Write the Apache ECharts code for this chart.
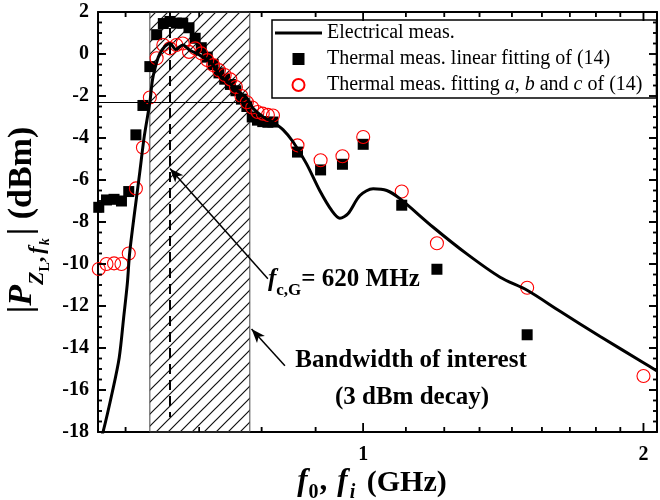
<!DOCTYPE html>
<html>
<head>
<meta charset="utf-8">
<script src="https://cdn.jsdelivr.net/npm/echarts@6/dist/echarts.min.js"></script>
<style>
  html, body { margin: 0; padding: 0; background: #fff; }
  #chart { width: 660px; height: 500px; }
</style>
</head>
<body>
<div id="chart"></div>
<script>
const FONT = '"Liberation Serif", "Times New Roman", serif';

// Electrical measurement: frequency (GHz) and power (dBm)
const elecFreq = [0.520, 0.5255, 0.538, 0.547, 0.553, 0.558, 0.5616, 0.5756, 0.582, 0.590, 0.594,
  0.600, 0.6045, 0.612, 0.620, 0.629, 0.640, 0.651, 0.667, 0.681, 0.690, 0.701, 0.719, 0.731,
  0.750, 0.762, 0.781, 0.800, 0.820, 0.841, 0.869, 0.898, 0.925, 0.944, 0.963, 0.992, 1.025,
  1.060, 1.095, 1.189, 1.292, 1.403, 1.500, 1.627, 1.797, 2.000, 2.068];
const elecPower = [-18.6, -18.0, -16.05, -14.45, -12.55, -10.95, -9.36, -5.6, -3.9, -2.3, -1.2,
  -0.4, 0.0, 0.35, 0.5, 0.22, 0.43, 0.19, -0.05, -0.29, -0.53, -1.0, -1.4, -1.72,
  -2.1, -2.6, -3.0, -3.25, -3.6, -4.19, -5.22, -6.5, -7.45, -7.82, -7.61, -6.74, -6.42,
  -6.5, -6.89, -8.25, -9.52, -10.63, -11.25, -12.25, -13.45, -14.7, -15.1];

// Thermal measurements: frequency (GHz)
const thermFreq = [0.52, 0.53, 0.54, 0.55, 0.56, 0.57, 0.58, 0.59, 0.60, 0.61, 0.62, 0.63, 0.64,
  0.65, 0.66, 0.67, 0.68, 0.69, 0.70, 0.71, 0.72, 0.73, 0.74, 0.75, 0.76, 0.77, 0.78, 0.79, 0.80,
  0.85, 0.90, 0.95, 1.00, 1.10, 1.20, 1.50, 2.00];
// Linear fitting of (14), dBm
const thermLinear = [-7.3, -6.95, -6.92, -7.0, -6.55, -3.85, -2.45, -0.6, 0.92, 1.45, 1.55, 1.47, 1.47,
  1.25, 0.75, 0.3, -0.15, -0.5, -0.9, -1.2, -1.45, -1.75, -2.15, -2.5, -3.0, -3.15, -3.22, -3.25, -3.24,
  -4.67, -5.52, -5.25, -4.3, -7.2, -10.25, -13.37, null];
// Fitting a, b and c of (14), dBm
const thermFit = [-10.24, -10.0, -9.97, -10.0, -9.5, -6.4, -4.45, -2.07, -0.2, 0.43, 0.27, 0.43, 0.5,
  0.1, 0.27, 0.03, -0.29, -0.53, -0.77, -1.0, -1.21, -1.57, -2.0, -2.3, -2.55, -2.76, -2.84, -2.9, -2.93,
  -4.35, -5.06, -4.87, -3.95, -6.55, -9.01, -11.13, -15.33];

// Axis ranges and ticks
const xRange = [0.519, 2.068];
const yRange = [-18, 2];
const xMajorTicks = [1, 2];
const xTickLabels = ['1', '2'];
const xMinorTicks = [0.5556, 0.6667, 0.7778, 0.8889, 1.1111, 1.2222, 1.3333, 1.4444,
  1.5556, 1.6667, 1.7778, 1.8889];
const yMajorTicks = [-18, -16, -14, -12, -10, -8, -6, -4, -2, 0, 2];
const yMinorTicks = [];
yMajorTicks.slice(0, -1).forEach(v => { yMinorTicks.push(v + 0.5, v + 1, v + 1.5); });

// Annotations
const bandOfInterest = [0.590, 0.7555];   // GHz, 3 dBm decay
const decayLevel = -2.3;                  // dBm
const cutoffFreq = 0.62;                  // GHz
const arrowCutoff = [[0.79, -10.7], [0.62, -5.45]];
const arrowBand = [[0.824, -14.85], [0.7587, -13.1]];

const names = ['Electrical meas.', 'Thermal meas. linear fitting of (14)',
  'Thermal meas. fitting a, b and c of (14)'];

// layout
const CHART_W = 660, CHART_H = 500;
const GRID = { left: 98, right: 3, top: 12, bottom: 68 };

function zip(xs, ys) {
  const out = [];
  for (let i = 0; i < xs.length; i++) if (ys[i] !== null) out.push([xs[i], ys[i]]);
  return out;
}

// diagonal hatch pattern
function hatchPattern(step) {
  const c = document.createElement('canvas');
  c.width = step; c.height = step;
  const g = c.getContext('2d');
  g.strokeStyle = '#111';
  g.lineWidth = 1.2;
  g.beginPath();
  g.moveTo(-1, step + 1); g.lineTo(step + 1, -1);
  g.moveTo(-1, 1); g.lineTo(1, -1);
  g.moveTo(step - 1, step + 1); g.lineTo(step + 1, step - 1);
  g.stroke();
  return { image: c, repeat: 'repeat' };
}

// inward tick segments along the frame, given a data -> pixel mapping
function tickSegments(toPx) {
  const segs = [];
  const seg = (p, dx, dy) => segs.push({
    type: 'line',
    shape: { x1: p[0], y1: p[1], x2: p[0] + dx, y2: p[1] + dy },
    style: { stroke: '#000', lineWidth: 1.5 }
  });
  yMajorTicks.forEach(v => { seg(toPx([xRange[0], v]), 8, 0); seg(toPx([xRange[1], v]), -8, 0); });
  yMinorTicks.forEach(v => { seg(toPx([xRange[0], v]), 4, 0); seg(toPx([xRange[1], v]), -4, 0); });
  xMajorTicks.forEach(f => { seg(toPx([f, yRange[0]]), 0, -9); seg(toPx([f, yRange[1]]), 0, 9); });
  xMinorTicks.forEach(f => { seg(toPx([f, yRange[0]]), 0, -5); seg(toPx([f, yRange[1]]), 0, 5); });
  return segs;
}

// text composed of pieces with sub-script offsets
const measureCtx = document.createElement('canvas').getContext('2d');
function mathText(parts, opt) {
  const fonts = parts.map(p => (p.italic ? 'italic ' : '') + 'bold ' + p.size + 'px ' + FONT);
  const widths = parts.map((p, i) => { measureCtx.font = fonts[i]; return measureCtx.measureText(p.t).width; });
  const total = widths.reduce((a, b) => a + b, 0) + parts.reduce((a, p) => a + (p.gap || 0), 0);
  let x = opt.anchor === 'center' ? -total / 2 : 0;
  const children = parts.map((p, i) => {
    x += (p.gap || 0);
    const el = {
      type: 'text', x: x, y: (p.dy || 0) - 0.34 * p.size,
      style: { text: p.t, font: fonts[i], fill: '#000', align: 'left', verticalAlign: 'middle' }
    };
    x += widths[i];
    return el;
  });
  return { type: 'group', x: opt.x, y: opt.y, rotation: opt.rotation || 0, children: children, z: 100 };
}

const axisFont = { fontFamily: FONT, fontWeight: 'bold', fontSize: 20, color: '#000' };

function xAxisDef(position, showLabel) {
  return {
    type: 'log', logBase: 10, gridIndex: 0, position: position,
    min: xRange[0], max: xRange[1],
    axisLine: { show: true, onZero: false, lineStyle: { color: '#000', width: 2 } },
    axisTick: { show: false },
    axisLabel: showLabel
      ? Object.assign({
          show: true, margin: 13, customValues: xMajorTicks,
          formatter: v => xTickLabels[xMajorTicks.indexOf(Math.round(v))]
        }, axisFont)
      : { show: false },
    splitLine: { show: false }
  };
}

function yAxisDef(position, showLabel) {
  return {
    type: 'value', position: position, min: yRange[0], max: yRange[1], interval: 2,
    axisLine: { show: true, onZero: false, lineStyle: { color: '#000', width: 2 } },
    axisTick: { show: true, inside: true, length: 8, lineStyle: { color: '#000', width: 1.5 } },
    axisLabel: showLabel ? Object.assign({ show: true, margin: 9 }, axisFont) : { show: false },
    splitLine: { show: false }
  };
}

const legendRich = {
  n: { fontFamily: FONT, fontSize: 20, color: '#000', lineHeight: 20 },
  i: { fontFamily: FONT, fontSize: 20, color: '#000', lineHeight: 20, fontStyle: 'italic' }
};

const chart = echarts.init(document.getElementById('chart'), null, { renderer: 'canvas' });

chart.setOption({
  animation: false,
  grid: Object.assign({ containLabel: false, outerBoundsMode: 'none' }, GRID),
  xAxis: [xAxisDef('bottom', true), xAxisDef('top', false)],
  yAxis: [yAxisDef('left', true), yAxisDef('right', false)],
  legend: {
    orient: 'vertical', left: 272, top: 20,
    itemWidth: 47, itemHeight: 12, itemGap: 6,
    padding: [3, 14, 3, 3],
    borderColor: '#000', borderWidth: 1.5, borderRadius: 0,
    backgroundColor: '#fff',
    selectedMode: false,
    symbolKeepAspect: true,
    data: [
      { name: names[0], icon: 'path://M0,0h47v3h-47z', itemStyle: { color: '#000' } },
      { name: names[1], icon: 'path://M0,0h10v10h-10z', itemStyle: { color: '#000' } },
      { name: names[2], icon: 'circle' }
    ],
    textStyle: { fontFamily: FONT, fontSize: 20, color: '#000', lineHeight: 20, rich: legendRich },
    formatter: function (name) {
      if (name === names[2]) {
        return '{n|Thermal meas. fitting }{i|a}{n|, }{i|b}{n| and }{i|c}{n| of (14)}';
      }
      return '{n|' + name + '}';
    }
  },
  series: [
    {
      name: 'annotations', type: 'line', data: [], silent: true, z: 1,
      markArea: {
        silent: true,
        itemStyle: { color: hatchPattern(12), borderColor: '#444', borderWidth: 1 },
        data: [[{ xAxis: bandOfInterest[0] }, { xAxis: bandOfInterest[1] }]]
      },
      markLine: {
        silent: true, symbol: 'none', animation: false,
        label: { show: false },
        data: [
          [{ coord: [cutoffFreq, yRange[1]], lineStyle: { type: [10, 6], width: 2, color: '#000' } },
           { coord: [cutoffFreq, -17.3] }],
          [{ coord: [xRange[0], decayLevel], lineStyle: { type: 'solid', width: 1, color: '#000' } },
           { coord: [bandOfInterest[1], decayLevel] }],
          [{ coord: arrowCutoff[0], symbol: 'none', lineStyle: { type: 'solid', width: 1.5, color: '#000' } },
           { coord: arrowCutoff[1], symbol: 'arrow', symbolSize: [8, 14] }],
          [{ coord: arrowBand[0], symbol: 'none', lineStyle: { type: 'solid', width: 1.5, color: '#000' } },
           { coord: arrowBand[1], symbol: 'arrow', symbolSize: [8, 14] }]
        ]
      }
    },
    {
      name: names[1], type: 'scatter', z: 3,
      data: zip(thermFreq, thermLinear),
      symbol: 'rect', symbolSize: 11,
      itemStyle: { color: '#000', opacity: 1 }
    },
    {
      name: names[2], type: 'scatter', z: 4,
      data: zip(thermFreq, thermFit),
      symbol: 'circle', symbolSize: 13,
      itemStyle: { color: 'rgba(0,0,0,0)', borderColor: '#ff0000', borderWidth: 1.1, opacity: 1 }
    },
    {
      name: names[0], type: 'line', z: 5,
      data: zip(elecFreq, elecPower),
      symbol: 'none', showSymbol: false, smooth: 0.3,
      lineStyle: { color: '#000', width: 3 },
      itemStyle: { color: '#000' }
    },
    {
      // inward ticks on all four sides of the frame
      name: 'frame ticks', type: 'custom', z: 20,
      data: [[1, 0]],
      renderItem: function (params, api) {
        return { type: 'group', children: tickSegments(p => api.coord(p)) };
      }
    }
  ]
});

// titles and labels; ticks again through the chart's pixel conversion
let convertedTicks = [];
try {
  convertedTicks = tickSegments(p => chart.convertToPixel({ xAxisIndex: 0, yAxisIndex: 0 }, p));
} catch (e) {
  convertedTicks = [];
}

chart.setOption({
  graphic: [
    // y axis title: |P_{Z_L, f_k}| (dBm)
    mathText([
      { t: '|', size: 34 },
      { t: 'P', size: 34, italic: true },
      { t: 'Z', size: 22, italic: true, dy: 11 },
      { t: 'L', size: 14, dy: 16 },
      { t: ',', size: 22, dy: 11 },
      { t: 'f', size: 22, italic: true, dy: 11, gap: 3 },
      { t: 'k', size: 14, italic: true, dy: 16, gap: 1 },
      { t: '| (dBm)', size: 34, gap: 3 }
    ], { x: 34, y: 220, rotation: Math.PI / 2, anchor: 'center' }),
    // x axis title: f_0, f_i (GHz)
    mathText([
      { t: 'f', size: 31, italic: true },
      { t: '0', size: 20, dy: 7, gap: 1 },
      { t: ',', size: 31, gap: 1 },
      { t: 'f', size: 31, italic: true, gap: 10 },
      { t: 'i', size: 20, italic: true, dy: 7, gap: 2 },
      { t: ' (GHz)', size: 30, gap: 4 }
    ], { x: 372, y: 493, anchor: 'center' }),
    // cut-off frequency label
    mathText([
      { t: 'f', size: 25, italic: true },
      { t: 'c,G', size: 17, dy: 8 },
      { t: '= 620 MHz', size: 25 }
    ], { x: 268, y: 288 }),
    {
      type: 'text', x: 411, y: 361, z: 100,
      style: { text: 'Bandwidth of interest', font: 'bold 25px ' + FONT, fill: '#000', align: 'center', verticalAlign: 'middle' }
    },
    {
      type: 'text', x: 412, y: 398, z: 100,
      style: { text: '(3 dBm decay)', font: 'bold 25px ' + FONT, fill: '#000', align: 'center', verticalAlign: 'middle' }
    }
  ].concat(convertedTicks.map(s => Object.assign({ z: 60 }, s)))
});
</script>
</body>
</html>
